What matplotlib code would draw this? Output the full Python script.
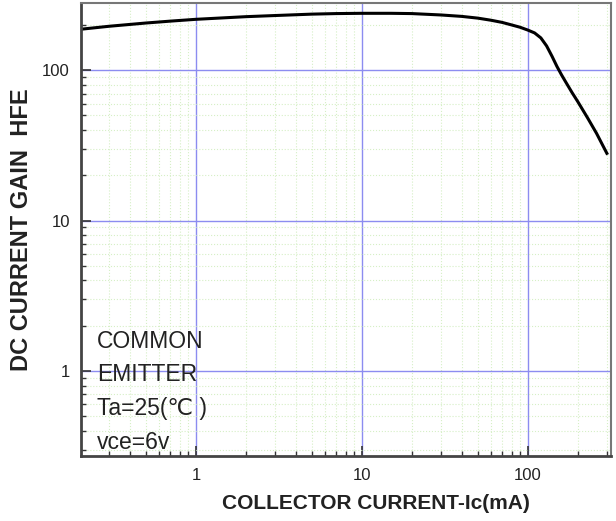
import matplotlib
matplotlib.use("Agg")
import matplotlib.pyplot as plt
from matplotlib.ticker import LogLocator, NullFormatter, FixedLocator, FixedFormatter

# hFE vs Ic
ic_ma = [0.2, 0.3, 0.5, 0.7, 1, 2, 3, 5, 7, 10, 15, 20, 30, 40, 50, 60, 70,
         80, 90, 100, 110, 120, 130, 140, 150, 160, 170, 185, 200, 230, 260, 300]
hfe = [187, 196, 206, 212, 218, 227, 231, 236, 238, 239, 239, 238, 233, 228,
       222, 215, 208, 200, 193, 185, 177, 164, 145, 124, 106, 93, 83, 71, 62,
       48, 38, 28]

x_ticks = [1, 10, 100]
y_ticks = [1, 10, 100]
note = "COMMON\nEMITTER\nTa=25(\u2103 )\nvce=6v"

plt.rcParams['font.family'] = ['Liberation Sans', 'DejaVu Sans']

fig = plt.figure(figsize=(6.16, 5.21), dpi=100)
ax = fig.add_axes([0.1315, 0.1248, 0.8605, 0.8695])

ax.set_xscale('log')
ax.set_yscale('log')
ax.set_xlim(0.203, 318)
ax.set_ylim(0.272, 280)

ax.grid(True, which='minor', color='#d6efc6', linestyle=':', linewidth=0.8)
ax.grid(True, which='major', color='#8c8cf0', linestyle='-', linewidth=1.0)
ax.set_axisbelow(True)

ax.plot(ic_ma, hfe, color='black', linewidth=2.2)

ax.xaxis.set_major_locator(FixedLocator(x_ticks))
ax.xaxis.set_major_formatter(FixedFormatter([str(v) for v in x_ticks]))
ax.yaxis.set_major_locator(FixedLocator(y_ticks))
ax.yaxis.set_major_formatter(FixedFormatter([str(v) for v in y_ticks]))
ax.xaxis.set_minor_locator(LogLocator(base=10, subs=range(2, 10)))
ax.yaxis.set_minor_locator(LogLocator(base=10, subs=range(2, 10)))
ax.xaxis.set_minor_formatter(NullFormatter())
ax.yaxis.set_minor_formatter(NullFormatter())

ax.tick_params(which='major', direction='in', length=7, width=1.2,
               labelsize=12, color='#333333', labelcolor='#222222')
ax.tick_params(which='minor', direction='in', length=3.5, width=1.0, color='#333333')
ax.tick_params(axis='x', which='major', pad=9)
ax.tick_params(axis='y', which='major', pad=8)

for side in ['left', 'bottom']:
    ax.spines[side].set_linewidth(2.0)
    ax.spines[side].set_color('#444444')
for side in ['top', 'right']:
    ax.spines[side].set_linewidth(1.5)
    ax.spines[side].set_color('#777777')

ax.set_xlabel('COLLECTOR CURRENT-Ic(mA)', fontsize=15, fontweight='bold', color='#222222')
ax.xaxis.set_label_coords(0.557, -0.085)
ax.set_ylabel('DC CURRENT GAIN  HFE', fontsize=17, fontweight='bold', color='#222222')
ax.yaxis.set_label_coords(-0.09, 0.5)

ax.text(0.03, 0.279, note, transform=ax.transAxes, fontsize=16.5,
        va='top', ha='left', linespacing=1.6, color='#222222')

fig.savefig('out.png', dpi=100)
